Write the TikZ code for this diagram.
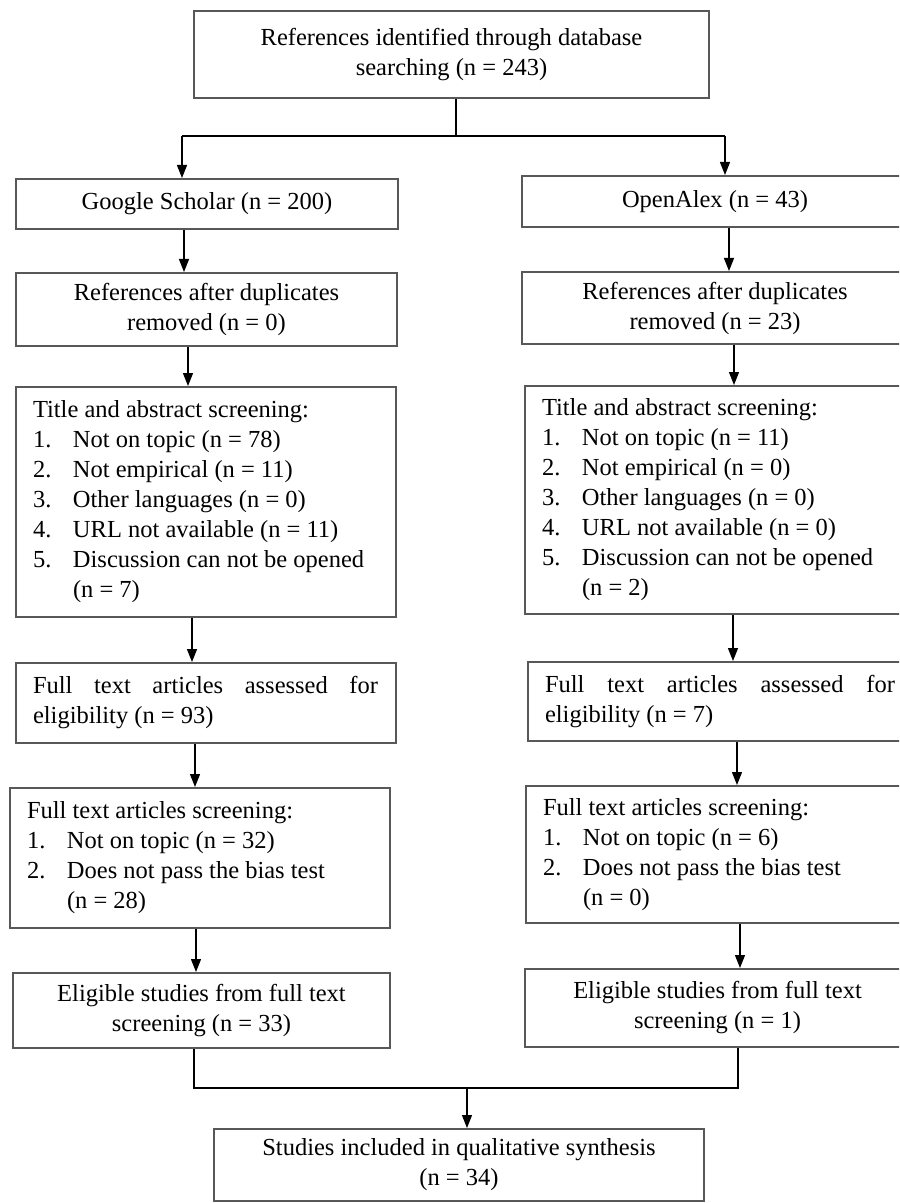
\documentclass[tikz,border=0pt]{standalone}
\usepackage{fontspec}
\setmainfont{Liberation Serif}
\usetikzlibrary{arrows.meta}
\definecolor{boxgray}{RGB}{88,88,88}
\newcommand{\fsz}{\fontsize{12.25}{15}\selectfont}
\newcommand{\itm}[1]{\makebox[20pt][l]{#1}}
\newcommand{\nsp}{\spaceskip=0pt\xspaceskip=0pt\relax}
\newcommand{\fullline}[1]{\makebox[#1]{Full\hfill text\hfill articles\hfill assessed\hfill for}}
\begin{document}
\begin{tikzpicture}[x=0.5pt,y=-0.5pt,
  box/.style={draw=boxgray, line width=1pt, inner sep=0pt, font=\fsz, align=center},
  lbox/.style={box, align=left, inner xsep=8.5pt},
  ln/.style={draw=black, line width=0.6pt},
  arr/.style={ln, -{Triangle[length=6.5pt,width=5pt]}}]
\useasboundingbox (0,0) rectangle (899,1203);
\fill[white] (0,0) rectangle (899,1203);
\clip (0,0) rectangle (899,1203);

% boxes
\node[box, minimum width=257.5pt, minimum height=43.5pt] (top) at (451.5,54.5)
  {References identified through database\\searching (n = 243)};
\node[box, minimum width=191pt, minimum height=25pt] (gs) at (207,204)
  {Google Scholar (n = 200)};
\node[box, minimum width=193pt, minimum height=25.5pt] (oa) at (715,201.5)
  {OpenAlex (n = 43)};
\node[box, minimum width=190.5pt, minimum height=36.5pt] (ldup) at (206.5,309.5)
  {References after duplicates\\removed (n = 0)};
\node[box, minimum width=193pt, minimum height=36pt] (rdup) at (715,308)
  {References after duplicates\\removed (n = 23)};
\node[lbox, text width=173pt, minimum height=115pt] (lta) at (206,502)
  {\nsp Title and abstract screening:\\
   \itm{1.}Not on topic (n = 78)\\
   \itm{2.}Not empirical (n = 11)\\
   \itm{3.}Other languages (n = 0)\\
   \itm{4.}URL not available (n = 11)\\
   \itm{5.}Discussion can not be opened\\
   \itm{}(n = 7)};
\node[lbox, text width=175.5pt, minimum height=114pt] (rta) at (717.5,500)
  {\nsp Title and abstract screening:\\
   \itm{1.}Not on topic (n = 11)\\
   \itm{2.}Not empirical (n = 0)\\
   \itm{3.}Other languages (n = 0)\\
   \itm{4.}URL not available (n = 0)\\
   \itm{5.}Discussion can not be opened\\
   \itm{}(n = 2)};
\node[lbox, text width=173pt, minimum height=40pt] (lft) at (206,703)
  {\nsp\fullline{172.5pt}\\eligibility (n = 93)};
\node[lbox, text width=175pt, minimum height=39.5pt] (rft) at (720,701.5)
  {\nsp\fullline{175pt}\\eligibility (n = 7)};
\node[lbox, text width=173pt, minimum height=70pt] (lscr) at (200,858)
  {\nsp Full text articles screening:\\
   \itm{1.}Not on topic (n = 32)\\
   \itm{2.}Does not pass the bias test\\
   \itm{}(n = 28)};
\node[lbox, text width=176pt, minimum height=68.5pt] (rscr) at (719,854.5)
  {\nsp Full text articles screening:\\
   \itm{1.}Not on topic (n = 6)\\
   \itm{2.}Does not pass the bias test\\
   \itm{}(n = 0)};
\node[box, minimum width=188.5pt, minimum height=37.5pt] (lel) at (201.5,1010.5)
  {Eligible studies from full text\\screening (n = 33)};
\node[box, minimum width=192.5pt, minimum height=39pt] (rel) at (717.5,1008)
  {Eligible studies from full text\\screening (n = 1)};
\node[box, minimum width=245pt, minimum height=36pt] (fin) at (459,1165)
  {Studies included in qualitative synthesis\\(n = 34)};

% connector coordinates
\coordinate (sT) at (456,136);
\coordinate (sL) at (182,136);
\coordinate (sR) at (725,136);
\coordinate (a1) at (184,0);
\coordinate (a2) at (188,0);
\coordinate (a3) at (192,0);
\coordinate (a4) at (195,0);
\coordinate (a5) at (196,0);
\coordinate (b1) at (729,0);
\coordinate (b2) at (734,0);
\coordinate (b3) at (733,0);
\coordinate (b4) at (737,0);
\coordinate (b5) at (740,0);
\coordinate (jL) at (194,1088);
\coordinate (jR) at (738,1088);
\coordinate (jM) at (467,1088);

% split
\draw[ln] (top.south -| sT) -- (sT);
\draw[ln] (sL) -- (sR);
\draw[arr] (sL) -- (gs.north -| sL);
\draw[arr] (sR) -- (oa.north -| sR);
% left column
\draw[arr] (gs.south -| a1) -- (ldup.north -| a1);
\draw[arr] (ldup.south -| a2) -- (lta.north -| a2);
\draw[arr] (lta.south -| a3) -- (lft.north -| a3);
\draw[arr] (lft.south -| a4) -- (lscr.north -| a4);
\draw[arr] (lscr.south -| a5) -- (lel.north -| a5);
% right column
\draw[arr] (oa.south -| b1) -- (rdup.north -| b1);
\draw[arr] (rdup.south -| b2) -- (rta.north -| b2);
\draw[arr] (rta.south -| b3) -- (rft.north -| b3);
\draw[arr] (rft.south -| b4) -- (rscr.north -| b4);
\draw[arr] (rscr.south -| b5) -- (rel.north -| b5);
% join
\draw[ln] (lel.south -| jL) -- (jL) -- (jR) -- (rel.south -| jR);
\draw[arr] (jM) -- (fin.north -| jM);
\end{tikzpicture}
\end{document}
